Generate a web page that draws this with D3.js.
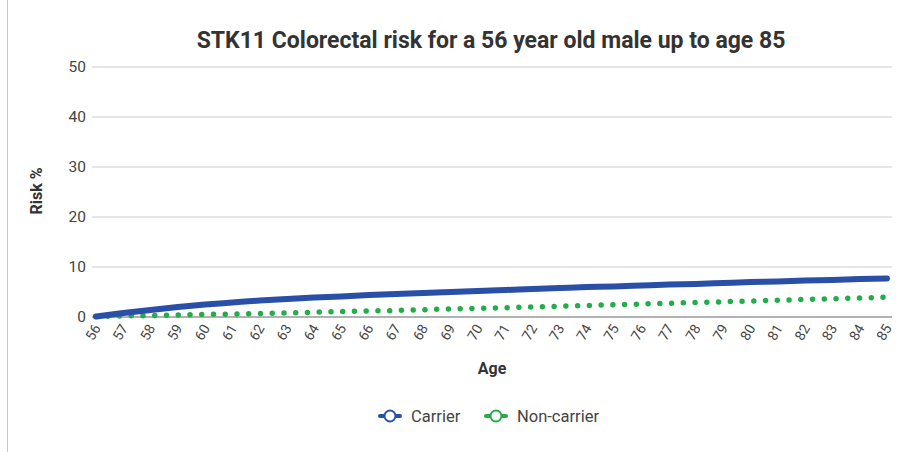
<!DOCTYPE html>
<html>
<head>
<meta charset="utf-8">
<script src="https://cdn.jsdelivr.net/npm/d3@7"></script>
<style>
  html, body { margin: 0; padding: 0; background: #fff; }
  svg { display: block; font-family: Roboto, "Noto Sans", sans-serif; }
</style>
</head>
<body>
<svg id="chart" width="907" height="452"></svg>
<script>
// Cumulative colorectal cancer risk (%) by age
const ages = [56,57,58,59,60,61,62,63,64,65,66,67,68,69,70,71,72,73,74,75,76,77,78,79,80,81,82,83,84,85];
const carrier = [0,0.7,1.3,1.9,2.4,2.8,3.2,3.5,3.8,4.0,4.3,4.5,4.7,4.9,5.1,5.3,5.5,5.7,5.9,6.0,6.2,6.4,6.5,6.7,6.9,7.0,7.2,7.3,7.5,7.6];
const nonCarrier = [0,0.1,0.2,0.3,0.4,0.5,0.6,0.7,0.85,1.0,1.1,1.2,1.35,1.5,1.6,1.75,1.9,2.05,2.2,2.35,2.5,2.65,2.8,2.95,3.1,3.25,3.4,3.55,3.7,3.85];
const yTicks = [0,10,20,30,40,50];
const seriesNames = ["Carrier", "Non-carrier"];
const colors = ["#2a4fa6", "#22ad4a"];

const svg = d3.select("#chart");

// thin frame line on the left edge
svg.append("line")
  .attr("x1", 7.5).attr("x2", 7.5).attr("y1", 0).attr("y2", 452)
  .attr("stroke", "#c8c8c8").attr("stroke-width", 1);

const plot = { left: 92, right: 892, top: 66.5, bottom: 316.5 };

const x = d3.scaleLinear().domain([56, 85]).range([96, 887]);
const y = d3.scaleLinear().domain([0, 50]).range([plot.bottom, plot.top]);

// title
svg.append("text")
  .attr("x", 491).attr("y", 48)
  .attr("text-anchor", "middle")
  .attr("font-size", 23).attr("font-weight", "bold")
  .attr("fill", "#333")
  .text("STK11 Colorectal risk for a 56 year old male up to age 85");

// horizontal gridlines + y labels
const yAxis = d3.axisLeft(y).tickValues(yTicks)
  .tickSize(-(plot.right - plot.left)).tickPadding(6);
const gy = svg.append("g")
  .attr("transform", `translate(${plot.left},0)`)
  .call(yAxis);
gy.select(".domain").remove();
gy.selectAll(".tick line").attr("stroke", "#cccccc");
gy.selectAll(".tick text")
  .attr("font-size", 15.5).attr("fill", "#444")
  .attr("font-family", "Roboto, sans-serif");
gy.selectAll(".tick").filter(d => d === 0).select("line")
  .attr("stroke", "#999").attr("stroke-width", 1.5);

// x axis labels (rotated)
const xAxis = d3.axisBottom(x).tickValues(ages).tickSize(0).tickPadding(4)
  .tickFormat(d3.format("d"));
const gx = svg.append("g")
  .attr("transform", `translate(0,${plot.bottom})`)
  .call(xAxis);
gx.select(".domain").remove();
gx.selectAll(".tick text")
  .attr("font-size", 14).attr("fill", "#444")
  .attr("font-family", "Roboto, sans-serif")
  .attr("text-anchor", "end")
  .attr("dy", "0.35em")
  .attr("transform", "translate(-3,7) rotate(-60)");

// axis titles
svg.append("text")
  .attr("x", 492).attr("y", 374)
  .attr("text-anchor", "middle")
  .attr("font-size", 16).attr("font-weight", "bold").attr("fill", "#333")
  .text("Age");
svg.append("text")
  .attr("transform", "translate(42,191) rotate(-90)")
  .attr("text-anchor", "middle")
  .attr("font-size", 16).attr("font-weight", "bold").attr("fill", "#333")
  .text("Risk %");

// lines
const line = d3.line()
  .x((d, i) => x(ages[i]))
  .y(d => y(d))
  .curve(d3.curveMonotoneX);

svg.append("path")
  .datum(nonCarrier)
  .attr("d", line)
  .attr("fill", "none")
  .attr("stroke", colors[1])
  .attr("stroke-width", 5.5)
  .attr("stroke-linecap", "round")
  .attr("stroke-dasharray", "0 11.75");

svg.append("path")
  .datum(carrier)
  .attr("d", line)
  .attr("fill", "none")
  .attr("stroke", colors[0])
  .attr("stroke-width", 6)
  .attr("stroke-linecap", "round");

// legend
const legendItems = [
  { name: seriesNames[0], color: colors[0], x: 378 },
  { name: seriesNames[1], color: colors[1], x: 484 }
];
const lg = svg.append("g");
legendItems.forEach(it => {
  const g = lg.append("g").attr("transform", `translate(${it.x},416)`);
  g.append("line").attr("x1", 2).attr("x2", 22).attr("y1", 0).attr("y2", 0)
    .attr("stroke", it.color).attr("stroke-width", 4).attr("stroke-linecap", "round");
  g.append("circle").attr("cx", 12).attr("cy", 0).attr("r", 5.5)
    .attr("fill", "#fff").attr("stroke", it.color).attr("stroke-width", 2);
  g.append("text").attr("x", 33).attr("y", 6)
    .attr("font-size", 16.5).attr("fill", "#444")
    .text(it.name);
});
</script>
</body>
</html>
